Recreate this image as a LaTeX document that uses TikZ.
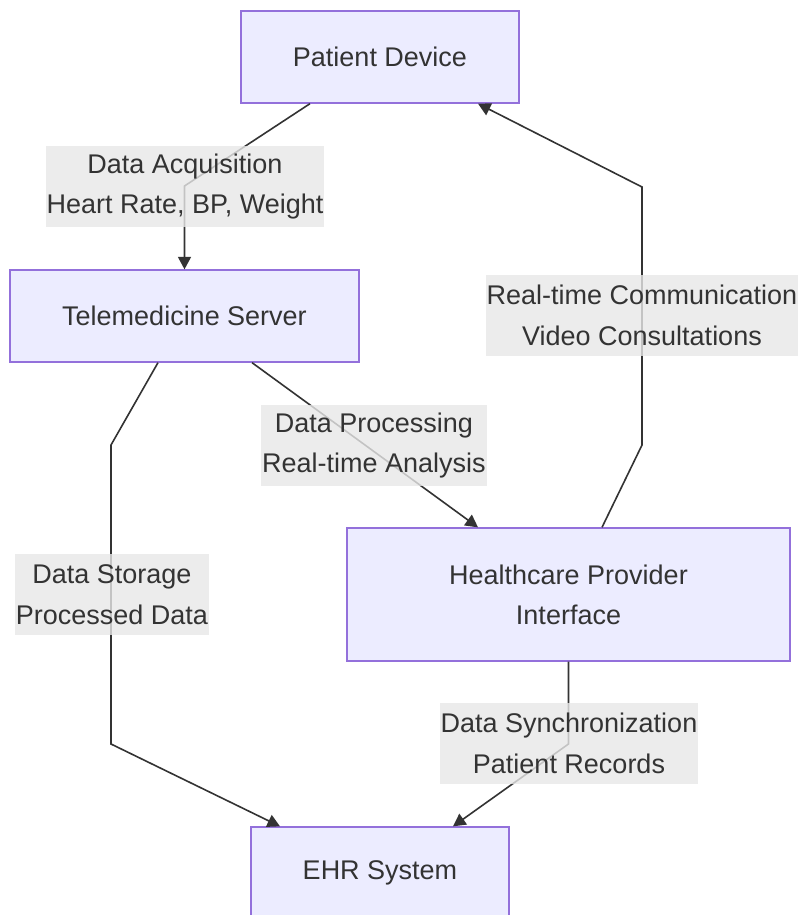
\documentclass[tikz,border=0pt]{standalone}
\usepackage{fontspec}
\setmainfont{Liberation Sans}
\usetikzlibrary{arrows.meta}
\definecolor{boxfill}{HTML}{ECECFF}
\definecolor{boxline}{HTML}{9370DB}
\definecolor{lblfill}{HTML}{E8E8E8}
\definecolor{ink}{HTML}{333333}
\tikzset{
  proc/.style={draw=boxline, fill=boxfill, line width=1.3pt, text=ink, inner sep=0pt,
    font=\fontsize{27}{40}\selectfont, align=center},
  lbl/.style={fill=lblfill, fill opacity=0.8, text opacity=1, text=ink, inner xsep=1pt, inner ysep=0pt,
    minimum height=81pt, font=\fontsize{27}{40.5}\selectfont, align=center},
  conn/.style={draw=ink, line width=1.6pt, -{Triangle[length=12.5pt,width=13pt]}},
}
\begin{document}
\begin{tikzpicture}[x=1pt,y=-1pt]
\clip (0,0) rectangle (799,915);
\fill[white] (0,0) rectangle (799,915);
% nodes
\node[proc, minimum width=278pt, minimum height=92pt] (pd) at (380,57) {Patient Device};
\node[proc, minimum width=349pt, minimum height=92pt] (ts) at (184.5,316) {Telemedicine Server};
\node[proc, minimum width=443pt, minimum height=133pt] (hp) at (568.5,594.5) {Healthcare Provider\\Interface};
\node[proc, minimum width=258pt, minimum height=92pt] (ehr) at (380,873) {EHR System};
% bend coordinates
\coordinate (a1) at (184.5,186);
\coordinate (s1) at (111,445);
\coordinate (s2) at (111,744);
\coordinate (y1) at (568.5,744);
\coordinate (r1) at (642,445);
\coordinate (r2) at (642,187);
% connectors
\draw[conn] ([xshift=-70pt]pd.south) -- (a1) -- (ts.north);
\draw[conn] ([xshift=67.5pt]ts.south) -- ([xshift=-90.5pt]hp.north);
\draw[conn] ([xshift=-26.5pt]ts.south) -- (s1) -- (s2) -- ([xshift=-100pt]ehr.north);
\draw[conn] (hp.south) -- (y1) -- ([xshift=73pt]ehr.north);
\draw[conn] ([xshift=33.5pt]hp.north) -- (r1) -- (r2) -- ([xshift=98pt]pd.south);
% labels
\node[lbl] (l1) at (185,186.5) {Data Acquisition\\Heart Rate, BP, Weight};
\node[lbl] (l2) at (374,445.5) {Data Processing\\Real-time Analysis};
\node[lbl] (l3) at (112,594.5) {Data Storage\\Processed Data};
\node[lbl] (l4) at (569,743.5) {Data Synchronization\\Patient Records};
\node[lbl] (l5) at (642,315.5) {Real-time Communication\\Video Consultations};
\end{tikzpicture}
\end{document}
